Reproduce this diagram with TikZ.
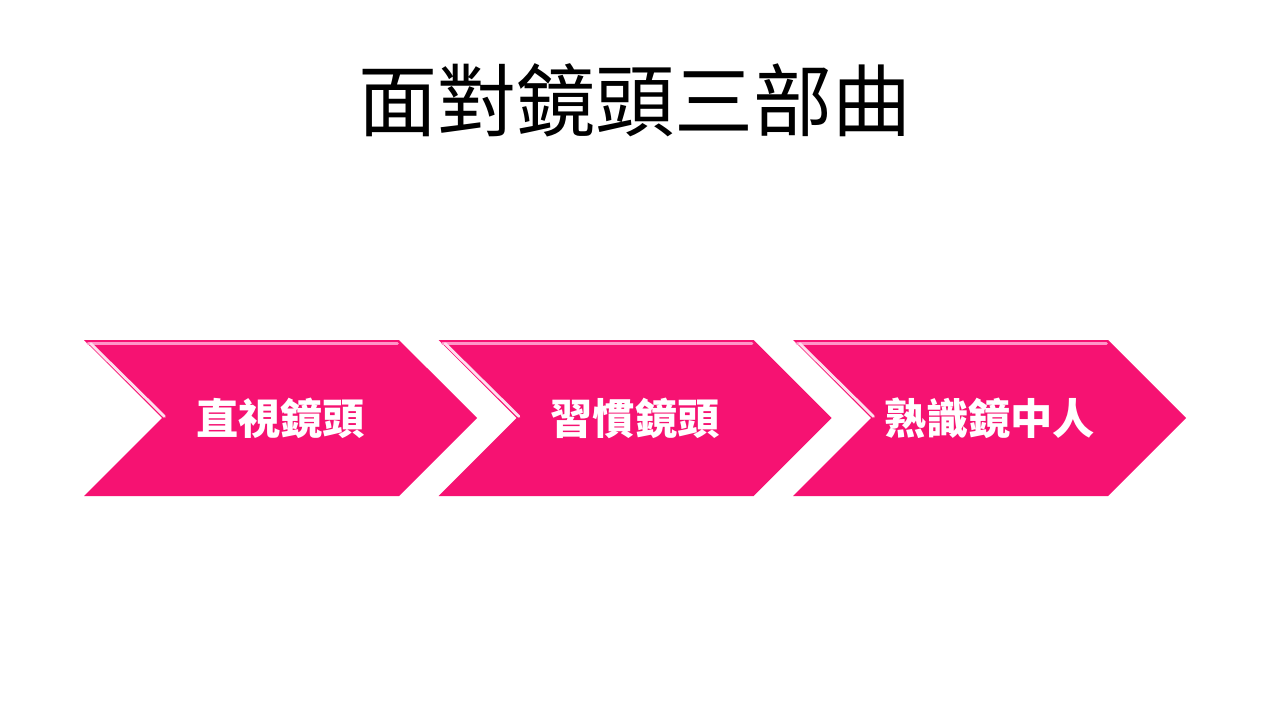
\documentclass[tikz,border=0pt]{standalone}
\usepackage{fontspec}
\newfontfamily\cjk{Noto Sans CJK TC}
\usetikzlibrary{shapes.symbols,calc}

\definecolor{chevpink}{RGB}{246,18,114}
\definecolor{chevlight}{RGB}{255,150,200}

\begin{document}
\begin{tikzpicture}[every node/.style={font=\cjk},
	stepchev/.style={signal, signal from=west, signal to=east, signal pointer angle=90,
		fill=chevpink, draw=none, minimum width=7.86cm, minimum height=3.12cm, inner sep=0pt,
		text=white, font=\cjk\bfseries\fontsize{24}{24}\selectfont}]
	\useasboundingbox (0,0) rectangle (25.36,-14.32);
	\node[font=\cjk\fontsize{45}{45}\selectfont] (title) at (12.7,-2.0) {面對鏡頭三部曲};
	\foreach \i/\lbl in {1/直視鏡頭, 2/習慣鏡頭, 3/熟識鏡中人} {
		\node[stepchev] (c\i) at ({5.61+7.09*(\i-1)},-8.36) {\lbl};
		% bevel highlight on the upper edges
		\draw[chevlight, line width=1.6pt, line cap=round]
			($(c\i.center)+(-3.85,1.49)$) -- ($(c\i.center)+(2.34,1.49)$);
		\draw[white!70!chevlight, line width=1.6pt, line cap=round]
			($(c\i.center)+(-3.80,1.49)$) -- ($(c\i.center)+(-2.32,0.03)$);
	}
\end{tikzpicture}
\end{document}
